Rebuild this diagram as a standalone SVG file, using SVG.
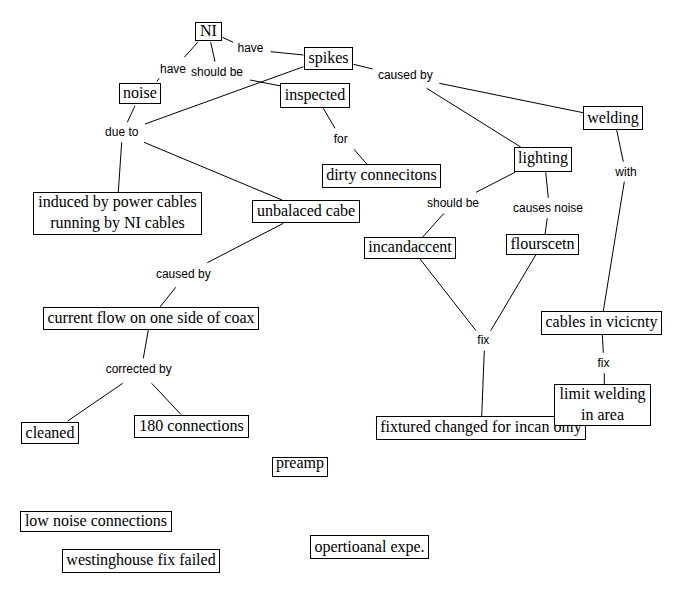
<svg xmlns="http://www.w3.org/2000/svg" width="681" height="594" viewBox="0 0 681 594">
<style>
.n rect{fill:#fff;stroke:#000;stroke-width:1}
.n text{font-family:"Liberation Serif","Times New Roman",serif;font-size:16px;fill:#000;text-anchor:middle}
.l{font-family:"Liberation Sans",Arial,sans-serif;font-size:12px;fill:#000;text-anchor:middle}
.c line{stroke:#000;stroke-width:1}
</style>
<rect width="681" height="594" fill="#fff"/>
<g class="c" id="connectors">
<line x1="197.7" y1="42.3" x2="184.3" y2="57.3"/>
<line x1="159.3" y1="78.3" x2="156.7" y2="81.5"/>
<line x1="210.7" y1="42.3" x2="215" y2="61.7"/>
<line x1="250" y1="80" x2="281" y2="86"/>
<line x1="222.3" y1="37.3" x2="233.3" y2="42.3"/>
<line x1="270.7" y1="51.7" x2="303.5" y2="55"/>
<line x1="135" y1="105.7" x2="127.3" y2="122.3"/>
<line x1="303.5" y1="66.7" x2="145" y2="124"/>
<line x1="121.7" y1="142.3" x2="118.3" y2="192"/>
<line x1="144" y1="142.3" x2="282" y2="200"/>
<line x1="323.3" y1="108.3" x2="335" y2="128.3"/>
<line x1="354" y1="149.3" x2="366.7" y2="164"/>
<line x1="283.3" y1="223.3" x2="207.3" y2="262.7"/>
<line x1="175.7" y1="287.3" x2="160" y2="307"/>
<line x1="148.3" y1="330" x2="143.3" y2="358.3"/>
<line x1="122.7" y1="383.3" x2="67.7" y2="421"/>
<line x1="151.7" y1="383.3" x2="181" y2="414.5"/>
<line x1="353.5" y1="64.3" x2="372.7" y2="69"/>
<line x1="439.3" y1="83.3" x2="583" y2="112.7"/>
<line x1="426.7" y1="88.3" x2="520.7" y2="147"/>
<line x1="616.7" y1="130" x2="623.3" y2="161.7"/>
<line x1="624.3" y1="181.7" x2="603.3" y2="311"/>
<line x1="515" y1="172.3" x2="476" y2="192.3"/>
<line x1="444" y1="213.3" x2="422.7" y2="237"/>
<line x1="545.7" y1="172.3" x2="548.3" y2="197.7"/>
<line x1="547.3" y1="218.3" x2="545" y2="234"/>
<line x1="420" y1="259" x2="476" y2="330.7"/>
<line x1="535.7" y1="255" x2="490.7" y2="330.7"/>
<line x1="484.3" y1="350.7" x2="481.7" y2="416"/>
<line x1="602.3" y1="335" x2="603.3" y2="352.7"/>
<line x1="604.3" y1="373.3" x2="604.3" y2="384"/>
</g>
<g id="labels">
<text class="l" x="250.5" y="52.3">have</text>
<text class="l" x="173" y="72.7">have</text>
<text class="l" x="217" y="76">should be</text>
<text class="l" x="121.8" y="136">due to</text>
<text class="l" x="340.8" y="142.7">for</text>
<text class="l" x="405.3" y="79">caused by</text>
<text class="l" x="626" y="176">with</text>
<text class="l" x="453" y="207">should be</text>
<text class="l" x="548" y="212">causes noise</text>
<text class="l" x="183.3" y="278">caused by</text>
<text class="l" x="138.7" y="373.3">corrected by</text>
<text class="l" x="483.3" y="344.3">fix</text>
<text class="l" x="603.5" y="366.7">fix</text>
</g>
<g class="n" id="ni"><rect x="195.5" y="22.5" width="26" height="18"/><text x="208.5" y="36">NI</text></g>
<g class="n" id="spikes"><rect x="304.5" y="47.5" width="48" height="22"/><text x="328.5" y="63">spikes</text></g>
<g class="n" id="noise"><rect x="119.5" y="83.5" width="41" height="20"/><text x="140" y="98.3">noise</text></g>
<g class="n" id="inspected"><rect x="280.5" y="83.5" width="69" height="24"/><text x="315" y="100">inspected</text></g>
<g class="n" id="induced"><rect x="33.5" y="192.5" width="168" height="42"/><text x="117.5" y="207">induced by power cables</text><text x="117.5" y="227.5">running by NI cables</text></g>
<g class="n" id="unbalaced"><rect x="252.5" y="200.5" width="107" height="22"/><text x="306" y="216">unbalaced cabe</text></g>
<g class="n" id="dirty"><rect x="322.5" y="164.5" width="118" height="23"/><text x="381.5" y="180.3">dirty connecitons</text></g>
<g class="n" id="lighting"><rect x="514.5" y="147.5" width="57" height="24"/><text x="543" y="163.3">lighting</text></g>
<g class="n" id="welding"><rect x="583.5" y="106.5" width="59" height="23"/><text x="613" y="122.7">welding</text></g>
<g class="n" id="incandaccent"><rect x="364.5" y="237.5" width="91" height="21"/><text x="410" y="252.3">incandaccent</text></g>
<g class="n" id="flourscetn"><rect x="506.5" y="234.5" width="72" height="20"/><text x="542.5" y="249">flourscetn</text></g>
<g class="n" id="cables"><rect x="541.5" y="311.5" width="120" height="23"/><text x="601.5" y="327.3">cables in vicicnty</text></g>
<g class="n" id="fixtured"><rect x="376.5" y="416.5" width="209" height="23"/><text x="481" y="432.3">fixtured changed for incan only</text></g>
<g class="n" id="limit"><rect x="554.5" y="384.5" width="96" height="41"/><text x="602.5" y="399.3">limit welding</text><text x="602.5" y="420">in area</text></g>
<g class="n" id="current"><rect x="43.5" y="307.5" width="215" height="22"/><text x="151" y="322.7">current flow on one side of coax</text></g>
<g class="n" id="cleaned"><rect x="21.5" y="422.5" width="57" height="21"/><text x="50" y="437.7">cleaned</text></g>
<g class="n" id="c180"><rect x="134.5" y="415.5" width="114" height="22"/><text x="191.5" y="430.7">180 connections</text></g>
<g class="n" id="preamp"><rect x="272.5" y="457.5" width="55" height="19"/><text x="300" y="467.8">preamp</text></g>
<g class="n" id="lownoise"><rect x="20.5" y="511.5" width="151" height="20"/><text x="96" y="525.7">low noise connections</text></g>
<g class="n" id="westinghouse"><rect x="62.5" y="549.5" width="157" height="23"/><text x="141" y="565">westinghouse fix failed</text></g>
<g class="n" id="opertioanal"><rect x="310.5" y="535.5" width="118" height="23"/><text x="369.5" y="551.7">opertioanal expe.</text></g>
</svg>
